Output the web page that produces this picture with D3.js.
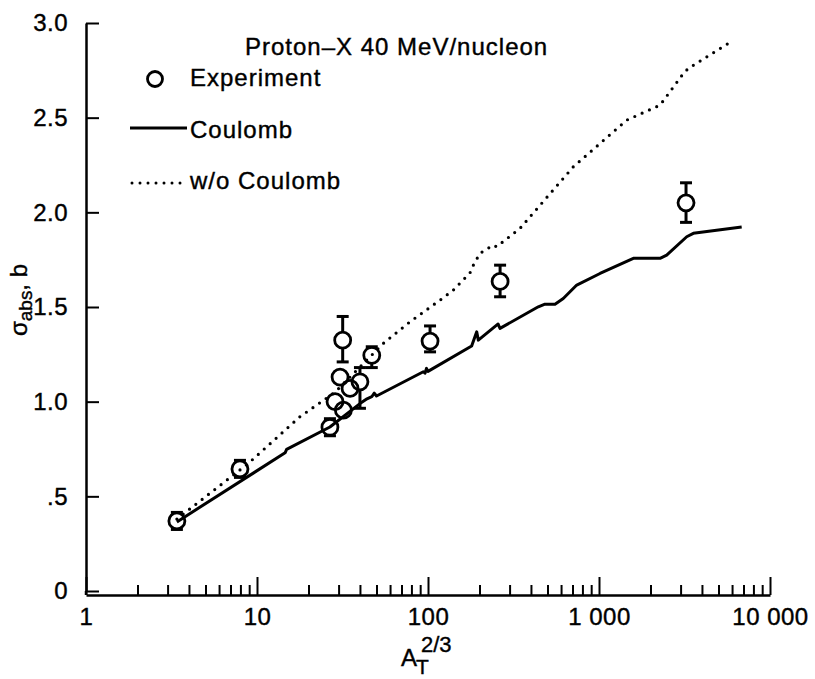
<!DOCTYPE html>
<html>
<head>
<meta charset="utf-8">
<script src="https://cdn.jsdelivr.net/npm/d3@7"></script>
<style>
  body { margin: 0; background: #fff; }
  text { font-family: "Liberation Sans", Arial, Helvetica, sans-serif; fill: #000; stroke: #000; stroke-width: 0.4px; }
</style>
</head>
<body>
<script>
var w = 815;
var h = 679;

// experiment points
var expX  = [3.4, 7.95, 26.7, 28.6, 30.6, 31.7, 32, 35, 40, 46.9, 102.8, 264, 3228];
var expY  = [0.37, 0.645, 0.865, 1.0, 1.13, 1.325, 0.955, 1.07, 1.105, 1.245, 1.32, 1.635, 2.05];
var expLo = [0.325, 0.60, 0.82, null, null, 1.21, null, null, 0.965, 1.18, 1.263, 1.554, 1.947];
var expHi = [0.415, 0.69, 0.91, null, null, 1.45, null, null, 1.18, 1.29, 1.40, 1.721, 2.156];

// Coulomb curve
var coulX = [3.4, 14.6, 14.9, 26.7, 40, 44, 46.9, 48.5, 50, 93.9, 96, 98, 100, 180, 192.7, 196.9, 252, 257, 263.7, 441.7, 483, 553, 618, 741, 1014, 1588, 2275, 2488, 3258, 3562, 6830];
var coulY = [0.365, 0.73, 0.748, 0.866, 0.99, 1.015, 1.026, 1.045, 1.03, 1.158, 1.15, 1.176, 1.16, 1.294, 1.369, 1.325, 1.404, 1.41, 1.387, 1.501, 1.515, 1.515, 1.545, 1.616, 1.677, 1.757, 1.757, 1.774, 1.871, 1.889, 1.923];

// without Coulomb curve
var woX = [3.4, 8.9, 17.8, 28.6, 54.8, 78.5, 117.5, 140.6, 176, 184, 201, 241, 252, 345, 707, 1452, 2275, 3112, 3328, 6100];
var woY = [0.38, 0.674, 0.92, 1.05, 1.308, 1.422, 1.536, 1.589, 1.68, 1.72, 1.783, 1.827, 1.818, 1.915, 2.24, 2.487, 2.566, 2.733, 2.76, 2.909];

// ticks
var xMajor = [1, 10, 100, 1000, 10000];
var xMajorLabels = ["1", "10", "100", "1 000", "10 000"];
var yTicks = [0, 0.5, 1.0, 1.5, 2.0, 2.5, 3.0];
var yTickLabels = ["0", ".5", "1.0", "1.5", "2.0", "2.5", "3.0"];

var x = d3.scaleLog().domain([1, 10000]).range([86, 770]);
var y = d3.scaleLinear().domain([0, 3]).range([591, 23]);

var svg = d3.select("body")
            .append("svg")
            .attr("width", w)
            .attr("height", h);

var axisY = 595;

// minor x ticks
var xMinor = [];
for (var d = 1; d < 10000; d *= 10) {
  for (var k = 2; k <= 9; k++) xMinor.push(d * k);
}

var gMinor = svg.append("g")
  .attr("transform", "translate(0," + axisY + ")")
  .call(d3.axisBottom(x).tickValues(xMinor).tickSize(-10).tickFormat(""));
gMinor.select(".domain").remove();

var gx = svg.append("g")
  .attr("transform", "translate(0," + axisY + ")")
  .call(d3.axisBottom(x).tickValues(xMajor).tickSizeInner(-18).tickSizeOuter(0)
        .tickPadding(13)
        .tickFormat(function(d, i) { return xMajorLabels[i]; }));

var gy = svg.append("g")
  .attr("transform", "translate(86,0)")
  .call(d3.axisLeft(y).tickValues(yTicks).tickSizeInner(-13).tickSizeOuter(0)
        .tickPadding(18)
        .tickFormat(function(d, i) { return yTickLabels[i]; }));

// extend y axis line down to the x axis
svg.append("line")
  .attr("x1", 86).attr("x2", 86)
  .attr("y1", y(0)).attr("y2", axisY)
  .style("stroke", "#000").style("stroke-width", 2.5);

svg.selectAll(".domain").style("stroke", "#000").style("stroke-width", 2.5);
svg.selectAll(".tick line").style("stroke", "#000").style("stroke-width", 2);
svg.selectAll(".tick text")
  .style("font-family", "'Liberation Sans', Arial, Helvetica, sans-serif")
  .style("font-size", "24px")
  .style("letter-spacing", "0.5px")
  .style("fill", "#000")
  .style("stroke", "#000")
  .style("stroke-width", "0.4px");

// curves
var line = d3.line()
  .x(function(d) { return x(d[0]); })
  .y(function(d) { return y(d[1]); });

var coul = coulX.map(function(v, i) { return [v, coulY[i]]; });
var wo = woX.map(function(v, i) { return [v, woY[i]]; });

svg.append("path")
  .attr("d", line(wo))
  .style("fill", "none")
  .style("stroke", "#000")
  .style("stroke-width", 3.2)
  .style("stroke-linecap", "round")
  .style("stroke-dasharray", "0 8");

svg.append("path")
  .attr("d", line(coul))
  .style("fill", "none")
  .style("stroke", "#000")
  .style("stroke-width", 3)
  .style("stroke-linejoin", "round");

// experiment points with error bars
var r = 8;
var pts = expX.map(function(v, i) {
  return {x: v, y: expY[i], lo: expLo[i], hi: expHi[i]};
});

var eb = svg.selectAll(".eb")
  .data(pts.filter(function(d) { return d.lo !== null; }))
  .enter()
  .append("g")
  .attr("class", "eb");

eb.each(function(d) {
  var g = d3.select(this);
  var cx = x(d.x), cy = y(d.y);
  if (y(d.hi) < cy - r) {
    g.append("line").attr("x1", cx).attr("x2", cx).attr("y1", y(d.hi)).attr("y2", cy - r);
  }
  if (y(d.lo) > cy + r) {
    g.append("line").attr("x1", cx).attr("x2", cx).attr("y1", cy + r).attr("y2", y(d.lo));
  }
  g.append("line").attr("x1", cx - 6).attr("x2", cx + 6).attr("y1", y(d.hi)).attr("y2", y(d.hi));
  g.append("line").attr("x1", cx - 6).attr("x2", cx + 6).attr("y1", y(d.lo)).attr("y2", y(d.lo));
});
eb.selectAll("line").style("stroke", "#000").style("stroke-width", 3);

svg.selectAll(".pt")
  .data(pts)
  .enter()
  .append("circle")
  .attr("class", "pt")
  .attr("cx", function(d) { return x(d.x); })
  .attr("cy", function(d) { return y(d.y); })
  .attr("r", r)
  .style("fill", "none")
  .style("stroke", "#000")
  .style("stroke-width", 2.8);

// legend
var fs = "24px";
svg.append("text")
  .attr("x", 245).attr("y", 55)
  .style("font-size", fs).style("letter-spacing", "1px")
  .text("Proton\u2013X 40 MeV/nucleon");

svg.append("circle")
  .attr("cx", 155).attr("cy", 79).attr("r", 7.5)
  .style("fill", "none").style("stroke", "#000").style("stroke-width", 2.8);
svg.append("text")
  .attr("x", 190).attr("y", 86)
  .style("font-size", fs).style("letter-spacing", "1px")
  .text("Experiment");

svg.append("line")
  .attr("x1", 130).attr("x2", 187).attr("y1", 128).attr("y2", 128)
  .style("stroke", "#000").style("stroke-width", 3);
svg.append("text")
  .attr("x", 190).attr("y", 138)
  .style("font-size", fs).style("letter-spacing", "1px")
  .text("Coulomb");

svg.append("line")
  .attr("x1", 132).attr("x2", 182).attr("y1", 183).attr("y2", 183)
  .style("stroke", "#000").style("stroke-width", 3)
  .style("stroke-linecap", "round").style("stroke-dasharray", "0 8");
svg.append("text")
  .attr("x", 190).attr("y", 189)
  .style("font-size", fs).style("letter-spacing", "1px")
  .text("w/o Coulomb");

// axis titles
var xt = svg.append("text")
  .attr("x", 401).attr("y", 666)
  .style("font-size", fs);
xt.append("tspan").text("A");
xt.append("tspan").attr("x", 416).attr("y", 674).style("font-size", "21px").text("T");
xt.append("tspan").attr("x", 421).attr("y", 652).style("font-size", "22px").text("2/3");

var yt = svg.append("text")
  .attr("transform", "translate(27,300) rotate(-90)")
  .attr("text-anchor", "middle")
  .style("font-size", fs);
yt.append("tspan").text("\u03c3");
yt.append("tspan").attr("dy", 5).style("font-size", "19px").text("abs");
yt.append("tspan").attr("dy", -5).text(", b");
</script>
</body>
</html>
